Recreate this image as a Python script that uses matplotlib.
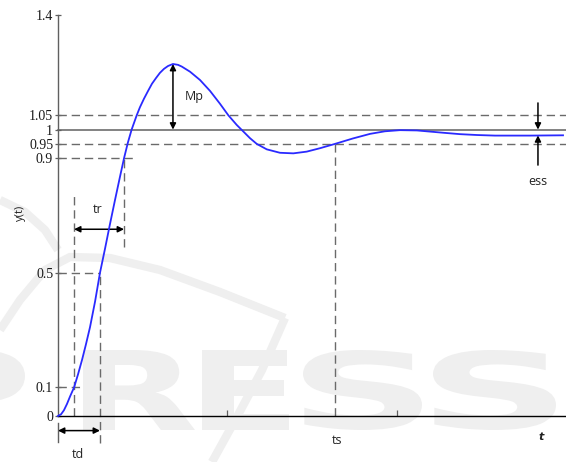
import matplotlib
matplotlib.use("Agg")
import matplotlib.pyplot as plt
from matplotlib.textpath import TextPath
from matplotlib.patches import PathPatch
from matplotlib.font_manager import FontProperties
from matplotlib.transforms import Affine2D

# Step response y(t) sampled along the curve
t_vals = [0.000, 0.018, 0.035, 0.053, 0.071, 0.095, 0.118, 0.142, 0.165, 0.189,
          0.219, 0.248, 0.278, 0.307, 0.337, 0.366, 0.390, 0.413, 0.435, 0.465,
          0.484, 0.508, 0.532, 0.555, 0.579, 0.602, 0.626, 0.650, 0.679, 0.709,
          0.731, 0.780, 0.839, 0.898, 0.957, 1.006, 1.056, 1.085, 1.134, 1.174,
          1.233, 1.311, 1.390, 1.469, 1.548, 1.636, 1.742, 1.843, 1.931, 2.020,
          2.120, 2.197, 2.274, 2.375, 2.475, 2.581, 2.670, 2.788, 2.983]
y_vals = [0.000, 0.006, 0.020, 0.042, 0.068, 0.100, 0.145, 0.196, 0.250, 0.310,
          0.400, 0.500, 0.585, 0.670, 0.755, 0.835, 0.900, 0.955, 1.000, 1.050,
          1.078, 1.108, 1.135, 1.160, 1.180, 1.198, 1.212, 1.222, 1.229, 1.226,
          1.220, 1.202, 1.173, 1.135, 1.090, 1.050, 1.016, 0.999, 0.970, 0.950,
          0.931, 0.919, 0.917, 0.923, 0.935, 0.950, 0.969, 0.985, 0.994, 0.998,
          0.997, 0.993, 0.989, 0.984, 0.981, 0.979, 0.979, 0.979, 0.980]

# Characteristic points of the response
t_10, t_50, t_90 = 0.095, 0.248, 0.390
t_peak, y_peak = 0.679, 1.229
t_settle = 1.636
y_final = 0.98
t_ess = 2.835

y_ticks = [0, 0.1, 0.5, 0.9, 0.95, 1, 1.05, 1.4]
y_tick_labels = ["0", "0.1", "0.5", "0.9", "0.95", "1", "1.05", "1.4"]
x_ticks = [1, 2]

W, H = 566, 462
fig = plt.figure(figsize=(W / 100, H / 100), dpi=100)
ax = fig.add_axes([0, 0, 1, 1])
ax.set_zorder(2)
ax.patch.set_alpha(0)
ax.set_xlim(-0.3426, 3.0006)
ax.set_ylim(-0.1606, 1.4524)

# background watermark (drawn in figure pixel units)
px = Affine2D().scale(1 / W, 1 / H) + fig.transFigure
wm_color = "#efefef"
wm_font = FontProperties(family="DejaVu Sans", weight="bold")
letters = [("P", -75, 25), ("R", 83, 195), ("E", 202, 289), ("S", 303, 422), ("S", 433, 556)]
top_px, bot_px = 350, 430
for ch, x0, x1 in letters:
    tp = TextPath((0, 0), ch, size=1, prop=wm_font)
    ext = tp.get_extents()
    sx = (x1 - x0) / ext.width
    sy = (bot_px - top_px) / ext.height
    tr = Affine2D().translate(-ext.x0, -ext.y0).scale(sx, sy).translate(x0, H - bot_px)
    fig.patches.append(PathPatch(tr.transform_path(tp), fc=wm_color, ec="none",
                                 transform=px, zorder=0))
swooshes = [
    ([0, 20, 45, 70, 110, 160, 220, 285], [330, 300, 270, 257, 258, 270, 292, 318]),
    ([285, 262, 238, 212], [318, 370, 415, 462]),
    ([0, 25, 45, 58], [200, 212, 230, 250]),
]
for xs, ys in swooshes:
    fig.lines.append(plt.Line2D(xs, [H - y for y in ys], transform=px,
                                color=wm_color, lw=6, solid_capstyle="butt", zorder=0))

# axes
ax.spines["top"].set_visible(False)
ax.spines["right"].set_visible(False)
ax.spines["left"].set_position(("data", 0))
ax.spines["bottom"].set_position(("data", 0))
ax.spines["left"].set_bounds(0, 1.4)
ax.spines["bottom"].set_bounds(0, 3.0006)
ax.spines["left"].set_color("#606060")
ax.spines["bottom"].set_color("black")
ax.spines["left"].set_linewidth(1.0)
ax.spines["bottom"].set_linewidth(1.0)

ax.set_yticks(y_ticks)
ax.set_yticklabels(y_tick_labels, fontfamily="Liberation Serif", fontsize=10,
                   color="#1a1a1a")
ax.tick_params(axis="y", direction="inout", length=4, width=0.9, color="#606060", pad=1.5)
ax.set_xticks(x_ticks)
ax.set_xticklabels([])
ax.tick_params(axis="x", direction="in", length=4, width=0.9, color="#606060")

dash = dict(color="#6a6a6a", lw=1.0, dashes=(6, 3.5))

# reference levels
ax.plot([0, 3.0006], [1, 1], color="#606060", lw=1.1, zorder=2)
ax.plot([0, 3.0006], [1.05, 1.05], **dash)
ax.plot([0, 3.0006], [0.95, 0.95], **dash)
ax.plot([0, 0.467], [0.9, 0.9], **dash)
ax.plot([0, t_50], [0.5, 0.5], **dash)
ax.plot([0, 0.148], [0.1, 0.1], **dash)

# time markers
ax.plot([t_10, t_10], [0, 0.78], **dash)
ax.plot([t_90, t_90], [0.59, 0.9], **dash)
ax.plot([t_50, t_50], [-0.094, 0.5], **dash)
ax.plot([t_settle, t_settle], [0, 0.95], **dash)

# response curve
ax.plot(t_vals, y_vals, color="#2a2aff", lw=1.3, zorder=4, solid_joinstyle="round")

arrow = dict(arrowstyle="<|-|>", mutation_scale=9, lw=1.1, color="black",
             shrinkA=0, shrinkB=0)
single = dict(arrowstyle="-|>", mutation_scale=9, lw=1.1, color="black",
              shrinkA=0, shrinkB=0)
lab = dict(fontfamily="Open Sans", fontsize=9, color="#222222")

ax.annotate("", xy=(t_90, 0.652), xytext=(t_10, 0.652), arrowprops=arrow)
ax.text((t_10 + t_90) / 2 - 0.01, 0.72, "tr", ha="center", va="center", **lab)

ax.annotate("", xy=(t_50, -0.051), xytext=(0, -0.051), arrowprops=arrow)
ax.plot([0, 0], [-0.024, -0.09], color="#606060", lw=1.0)
ax.text(0.118, -0.136, "td", ha="center", va="center", **lab)

ax.text(1.648, -0.084, "ts", ha="center", va="center", **lab)

ax.annotate("", xy=(t_peak, 1.0), xytext=(t_peak, y_peak), arrowprops=arrow)
ax.text(0.75, 1.115, "Mp", ha="left", va="center", **lab)

ax.annotate("", xy=(t_ess, 1.0), xytext=(t_ess, 1.093), arrowprops=single)
ax.annotate("", xy=(t_ess, y_final), xytext=(t_ess, 0.876), arrowprops=single)
ax.text(t_ess, 0.817, "ess", ha="center", va="center", **lab)

ax.text(-0.224, 0.71, "y(t)", rotation=90, ha="center", va="center",
        fontfamily="Open Sans", fontsize=8, color="#222222")
ax.text(2.853, -0.073, "t", ha="center", va="center", fontfamily="DejaVu Sans",
        fontstyle="italic", fontweight="bold", fontsize=8, color="#222222")

fig.savefig("out.png", dpi=100)
